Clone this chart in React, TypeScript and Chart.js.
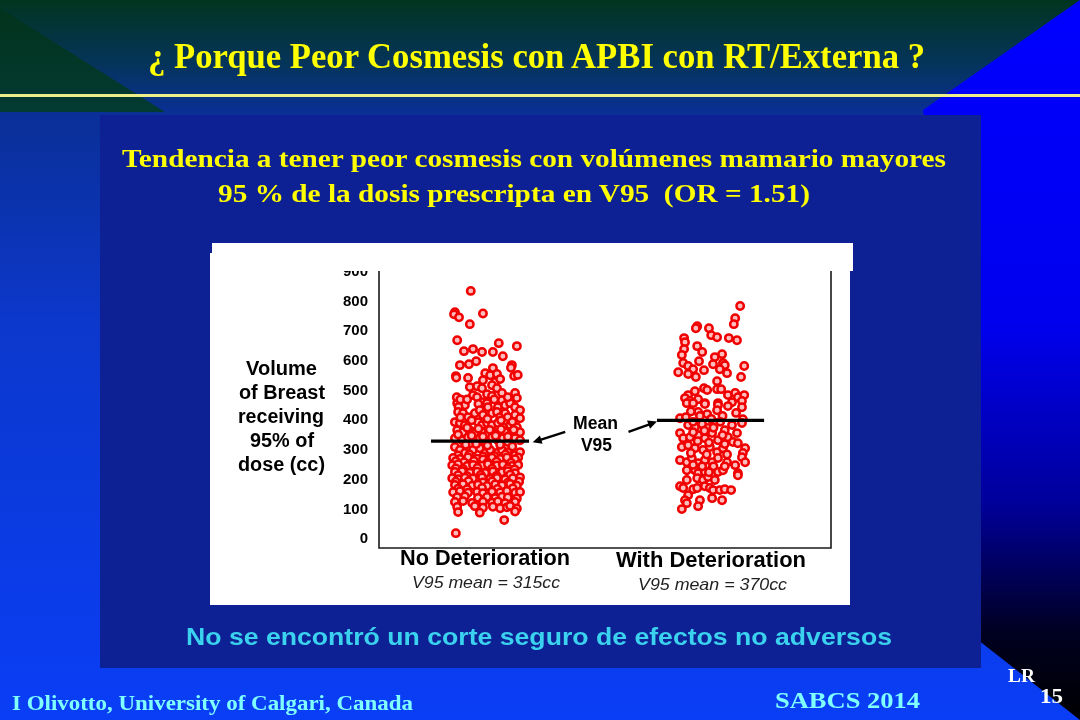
import React, { useEffect, useRef } from "react";
import { Chart, registerables } from "chart.js";

Chart.register(...registerables);

// ---- data ----
const yTicks = [0, 100, 200, 300, 400, 500, 600, 700, 800, 900];
const categoryLabels = ["No Deterioration", "With Deterioration"];
const meanCaptions = ["V95 mean = 315cc", "V95 mean = 370cc"];
const meanBarNo = [{ x: 1.15, y: 330 }, { x: 3.32, y: 330 }];
const meanBarWith = [{ x: 6.15, y: 400 }, { x: 8.52, y: 400 }];
const meanArrows = [
  { from: [4.12, 361], to: [3.4, 326] },
  { from: [5.52, 361], to: [6.15, 396] },
];

const noDeteriorationPoints: [number, number][] = [
  [2.03, 836], [1.68, 764], [1.66, 757], [1.77, 747], [2.30, 760], [2.01, 724], [1.73, 670], [2.65, 660], [3.05, 650],
  [1.88, 633], [2.08, 640], [2.28, 630], [2.52, 630], [2.74, 616], [1.79, 586], [1.99, 589], [2.15, 599], [2.52, 576],
  [2.94, 586], [2.92, 577], [1.70, 549], [1.71, 544], [1.97, 543], [2.99, 549], [3.07, 553],
  [2.35, 559], [2.46, 552], [2.61, 556], [2.30, 535], [2.57, 529], [2.68, 539],
  [2.01, 512], [2.17, 515], [2.28, 508], [2.50, 518], [2.61, 508], [2.72, 492],
  [2.08, 485], [2.17, 478], [2.39, 488], [2.50, 482], [3.01, 492], [3.05, 475],
  [1.84, 468], [1.73, 458], [1.90, 451], [2.28, 461], [2.39, 458], [2.41, 444], [2.72, 468], [2.63, 444], [2.79, 451], [2.90, 458], [3.01, 444], [3.12, 434],
  [1.72, 478], [1.80, 470], [1.76, 445], [1.95, 470], [2.20, 455], [2.55, 470], [2.85, 478],
  [1.75, 428], [1.86, 424], [1.97, 411], [2.12, 424], [2.23, 434], [2.30, 418], [2.50, 424], [2.61, 428], [2.68, 411], [2.79, 424], [2.85, 411], [3.01, 418], [3.12, 407],
  [1.68, 394], [1.79, 391], [1.90, 384], [2.19, 394], [2.28, 384], [2.39, 391], [2.50, 384], [2.63, 391], [2.74, 377], [2.90, 384], [3.05, 377],
  [1.80, 410], [2.05, 400], [2.40, 405], [2.70, 400], [2.95, 395],
  [1.73, 367], [1.86, 360], [2.01, 367], [2.12, 357], [2.28, 360], [2.39, 350], [2.52, 360], [2.63, 357], [2.79, 360], [2.90, 350], [3.01, 357], [3.12, 360],
  [1.95, 375], [2.20, 372], [2.45, 368], [2.70, 370], [2.98, 368],
  [1.68, 340], [1.84, 333], [1.97, 343], [2.12, 333], [2.23, 340], [2.35, 327], [2.50, 343], [2.63, 333], [2.74, 340], [2.85, 327], [3.01, 340], [3.12, 333],
  [1.75, 352], [2.05, 348], [2.30, 345], [2.58, 348], [2.85, 345],
  [1.68, 310], [1.79, 300], [1.90, 290], [2.08, 300], [2.23, 306], [2.35, 290], [2.46, 300], [2.61, 290], [2.72, 300], [2.85, 293], [3.01, 283], [3.12, 293],
  [1.92, 318], [2.15, 320], [2.40, 315], [2.68, 318], [2.95, 312],
  [1.75, 282], [2.00, 285], [2.30, 278], [2.55, 280], [2.80, 285], [3.08, 275],
  [1.64, 273], [1.79, 270], [1.97, 276], [2.17, 271], [2.30, 268], [2.50, 274], [2.68, 270], [2.83, 275], [3.01, 269],
  [1.70, 262], [1.88, 259], [2.10, 263], [2.40, 258], [2.60, 261], [2.92, 257],
  [1.62, 249], [1.75, 252], [1.95, 246], [2.08, 250], [2.28, 247], [2.41, 252], [2.61, 248], [2.74, 251], [2.94, 246], [3.08, 250],
  [1.70, 238], [1.86, 236], [2.18, 240], [2.50, 237], [2.85, 239], [3.00, 235],
  [1.68, 226], [1.84, 229], [2.01, 224], [2.17, 227], [2.35, 223], [2.52, 228], [2.72, 225], [2.85, 229], [3.01, 222],
  [1.75, 215], [1.95, 212], [2.25, 216], [2.60, 213], [2.90, 217],
  [1.62, 205], [1.75, 202], [1.90, 207], [2.08, 204], [2.28, 208], [2.46, 203], [2.61, 206], [2.79, 201], [2.96, 205], [3.12, 208],
  [1.70, 193], [1.98, 195], [2.30, 191], [2.50, 194], [2.85, 190], [3.10, 193],
  [1.68, 182], [1.86, 185], [2.06, 180], [2.19, 183], [2.39, 179], [2.57, 184], [2.72, 181], [2.90, 186], [3.05, 180],
  [1.75, 170], [1.95, 168], [2.28, 172], [2.62, 169], [2.96, 171],
  [1.64, 158], [1.79, 161], [1.97, 156], [2.17, 159], [2.30, 155], [2.50, 160], [2.68, 157], [2.83, 162], [3.01, 156], [3.12, 159],
  [1.73, 141], [1.90, 144], [2.19, 139], [2.39, 142], [2.57, 138], [2.72, 143], [2.85, 140], [3.05, 137],
  [1.68, 125], [1.86, 128], [2.06, 122], [2.30, 126], [2.50, 123], [2.63, 127], [2.79, 121], [3.01, 125],
  [1.73, 108], [2.12, 111], [2.30, 106], [2.52, 109], [2.68, 104], [2.83, 107], [2.90, 112], [3.05, 103],
  [1.75, 91], [2.23, 89], [3.01, 93],
  [2.77, 64], [1.70, 20],
];

const withDeteriorationPoints: [number, number][] = [
  [7.99, 785], [7.88, 744], [7.85, 724], [7.04, 717], [7.01, 710], [7.30, 710], [7.35, 687], [7.48, 680], [7.74, 677], [7.92, 670],
  [6.75, 677], [6.77, 663], [7.04, 650], [7.15, 630], [6.75, 640], [6.70, 620], [7.43, 613], [7.59, 623], [7.08, 599], [6.73, 593],
  [6.84, 583], [6.95, 572], [7.39, 589], [7.61, 593], [7.65, 586], [7.54, 572], [7.19, 569], [8.08, 583], [6.62, 562], [6.84, 556],
  [7.01, 546], [7.70, 559], [8.01, 546], [7.48, 532], [7.19, 508], [7.26, 502], [7.48, 505], [7.57, 505], [6.99, 498], [6.84, 485],
  [6.77, 475], [6.88, 465], [7.06, 471], [7.72, 485], [7.88, 492], [7.94, 478], [8.08, 485], [8.03, 465], [7.21, 458], [7.50, 458], [7.81, 461],
  [6.81, 458], [6.95, 458], [7.21, 455], [7.50, 451], [7.72, 448], [8.03, 444], [7.06, 428], [7.26, 421], [7.48, 434], [6.66, 407],
  [6.79, 411], [8.05, 404], [8.03, 391], [6.84, 384], [6.99, 377], [7.15, 387], [7.28, 374], [7.43, 391], [7.65, 367], [7.81, 384],
  [7.92, 357], [6.66, 357], [6.73, 340], [6.88, 343], [7.06, 350], [7.21, 340], [7.37, 357], [7.50, 333], [7.72, 343], [7.83, 327],
  [7.94, 323], [6.70, 310], [6.84, 316], [6.99, 306], [7.17, 300], [7.32, 310], [7.48, 293], [7.61, 306], [8.10, 306], [8.05, 290],
  [8.03, 276], [6.66, 266], [6.81, 259], [6.92, 273], [7.06, 256], [7.21, 266], [7.37, 259], [7.50, 273], [7.70, 259], [7.88, 249],
  [8.10, 259], [6.81, 232], [6.99, 232], [7.06, 222], [7.21, 226], [7.37, 239], [7.50, 226], [7.61, 232], [7.94, 222], [7.04, 205],
  [7.17, 199], [7.28, 209], [7.43, 199], [6.81, 199], [6.66, 178], [6.73, 172], [6.95, 168], [7.04, 172], [7.21, 178], [7.32, 172],
  [7.39, 165], [7.54, 165], [7.65, 168], [7.79, 165], [6.84, 148], [6.77, 131], [6.81, 121], [7.10, 131], [7.06, 111], [7.37, 138],
  [7.59, 131], [6.70, 101],
  [6.90, 430], [7.10, 415], [7.35, 405], [7.60, 415], [7.90, 425], [6.95, 395], [7.55, 395], [7.20, 365], [7.40, 375], [6.95, 360],
  [7.60, 350], [7.30, 325], [7.05, 330], [7.65, 320], [6.90, 290], [7.25, 285], [7.70, 285], [7.40, 245], [7.15, 245], [6.95, 250],
  [7.65, 245], [7.30, 225], [7.94, 215],
];

const SANS = "'Liberation Sans', Arial, sans-serif";
const SERIF = "'Liberation Serif', 'Times New Roman', serif";

const framePlugin = {
  id: "frameAndArrows",
  afterDatasetsDraw(chart: any) {
    const { ctx, chartArea, scales } = chart;
    const { left, right, top, bottom } = chartArea;
    ctx.save();
    ctx.strokeStyle = "#1a1a1a";
    ctx.lineWidth = 1.6;
    ctx.beginPath();
    ctx.moveTo(left, top);
    ctx.lineTo(left, bottom);
    ctx.lineTo(right, bottom);
    ctx.lineTo(right, top);
    ctx.stroke();
    ctx.strokeStyle = "#000";
    ctx.fillStyle = "#000";
    ctx.lineWidth = 2.4;
    for (const a of meanArrows) {
      const x1 = scales.x.getPixelForValue(a.from[0]);
      const y1 = scales.y.getPixelForValue(a.from[1]);
      const x2 = scales.x.getPixelForValue(a.to[0]);
      const y2 = scales.y.getPixelForValue(a.to[1]);
      const ang = Math.atan2(y2 - y1, x2 - x1);
      const hl = 10;
      const bx = x2 - Math.cos(ang) * hl * 0.8;
      const by = y2 - Math.sin(ang) * hl * 0.8;
      ctx.beginPath();
      ctx.moveTo(x1, y1);
      ctx.lineTo(bx, by);
      ctx.stroke();
      ctx.beginPath();
      ctx.moveTo(x2, y2);
      ctx.lineTo(x2 - hl * Math.cos(ang - 0.45), y2 - hl * Math.sin(ang - 0.45));
      ctx.lineTo(x2 - hl * Math.cos(ang + 0.45), y2 - hl * Math.sin(ang + 0.45));
      ctx.closePath();
      ctx.fill();
    }
    ctx.restore();
  },
};

function T(props: any) {
  const { x, y, w, size, fill, family, weight, italic, children } = props;
  return (
    <text
      x={x}
      y={y}
      textLength={w}
      lengthAdjust="spacingAndGlyphs"
      fontSize={size}
      fill={fill}
      fontFamily={family}
      fontWeight={weight || "bold"}
      fontStyle={italic ? "italic" : "normal"}
      style={{ whiteSpace: "pre" }}
    >
      {children}
    </text>
  );
}

export default function App() {
  const ref = useRef<HTMLCanvasElement>(null);
  useEffect(() => {
    if (!ref.current) return;
    const pointStyle = {
      pointRadius: 3.7,
      borderWidth: 2.5,
      borderColor: "#f00000",
      backgroundColor: "#ffbcbc",
      order: 1,
    };
    const chart = new Chart(ref.current, {
      type: "scatter",
      data: {
        datasets: [
          { label: "mean1", data: meanBarNo, showLine: true, borderColor: "#000", borderWidth: 3.4, pointRadius: 0, order: 0 } as any,
          { label: "mean2", data: meanBarWith, showLine: true, borderColor: "#000", borderWidth: 3.4, pointRadius: 0, order: 0 } as any,
          { label: categoryLabels[0], data: noDeteriorationPoints.map(([x, y]) => ({ x, y })), ...pointStyle } as any,
          { label: categoryLabels[1], data: withDeteriorationPoints.map(([x, y]) => ({ x, y })), ...pointStyle } as any,
        ],
      },
      options: {
        animation: false,
        responsive: false,
        layout: { padding: { top: 20, right: 19, bottom: 57, left: 0 } },
        plugins: { legend: { display: false }, tooltip: { enabled: false } },
        scales: {
          x: { type: "linear", min: 0, max: 10, display: false },
          y: {
            min: -30,
            max: 930,
            afterBuildTicks: (s: any) => {
              s.ticks = yTicks.map((v) => ({ value: v }));
            },
            afterFit: (s: any) => {
              s.width = 169;
            },
            grid: { display: false, drawTicks: false },
            border: { display: false },
            ticks: { color: "#000", padding: 11, font: { family: SANS, size: 15, weight: "bold" } },
          },
        },
      } as any,
      plugins: [framePlugin],
    });
    return () => chart.destroy();
  }, []);

  return (
    <div style={{ position: "absolute", left: 0, top: 0, width: 1080, height: 720, overflow: "hidden" }}>
      <svg width={1080} height={720} style={{ position: "absolute", left: 0, top: 0 }}>
        <defs>
          <linearGradient id="bg" x1="0" y1="0" x2="0" y2="1">
            <stop offset="0" stopColor="#01351f" />
            <stop offset="0.09" stopColor="#05345c" />
            <stop offset="0.16" stopColor="#0a2f98" />
            <stop offset="0.45" stopColor="#0c38cc" />
            <stop offset="1" stopColor="#0a3ef6" />
          </linearGradient>
          <linearGradient id="rt" x1="0" y1="0" x2="0" y2="1">
            <stop offset="0" stopColor="#0000ff" />
            <stop offset="0.45" stopColor="#0000ee" />
            <stop offset="0.7" stopColor="#00009a" />
            <stop offset="0.88" stopColor="#000020" />
            <stop offset="1" stopColor="#000000" />
          </linearGradient>
          <linearGradient id="lt" x1="0" y1="0" x2="0" y2="1">
            <stop offset="0" stopColor="#02331c" />
            <stop offset="1" stopColor="#033a32" />
          </linearGradient>
        </defs>
        <rect x={0} y={0} width={1080} height={720} fill="url(#bg)" />
        <polygon points="0,8 165,112 0,112" fill="url(#lt)" />
        <polygon points="1080,0 923,110 978,640 1080,720" fill="url(#rt)" />
        <rect x={0} y={94} width={1080} height={3} fill="#eeee88" />
        <rect x={100} y={115} width={881} height={553} fill="#0e2194" />
      </svg>
      <div style={{ position: "absolute", left: 210, top: 253, width: 640, height: 352, background: "#fff" }} />
      <canvas ref={ref} width={640} height={362} style={{ position: "absolute", left: 210, top: 243, width: 640, height: 362 }} />
      <div style={{ position: "absolute", left: 212, top: 243, width: 641, height: 28, background: "#fff" }} />
      <svg width={1080} height={720} style={{ position: "absolute", left: 0, top: 0, pointerEvents: "none" }}>
        <T x={148} y={68} w={777} size={35} fill="#ffff00" family={SERIF}>¿ Porque Peor Cosmesis con APBI con RT/Externa ?</T>
        <T x={122} y={167} w={824} size={26} fill="#ffff00" family={SERIF}>Tendencia a tener peor cosmesis con volúmenes mamario mayores</T>
        <T x={218} y={202} w={592} size={26} fill="#ffff00" family={SERIF}>95 % de la dosis prescripta en V95  (OR = 1.51)</T>
        <T x={186} y={645} w={706} size={24} fill="#3ad2ee" family={SANS}>No se encontró un corte seguro de efectos no adversos</T>
        <T x={12} y={710} w={401} size={21} fill="#80ffff" family={SERIF}>I Olivotto, University of Calgari, Canada</T>
        <T x={775} y={708} w={145} size={24} fill="#80ffff" family={SERIF}>SABCS 2014</T>
        <T x={1008} y={682} w={27} size={18} fill="#ffffff" family={SERIF}>LR</T>
        <T x={1040} y={703} w={23} size={21} fill="#ffffff" family={SERIF}>15</T>

        <T x={246} y={375} w={71} size={20} fill="#000" family={SANS}>Volume</T>
        <T x={239} y={399} w={86} size={20} fill="#000" family={SANS}>of Breast</T>
        <T x={238} y={423} w={86} size={20} fill="#000" family={SANS}>receiving</T>
        <T x={250} y={447} w={64} size={20} fill="#000" family={SANS}>95% of</T>
        <T x={238} y={471} w={87} size={20} fill="#000" family={SANS}>dose (cc)</T>
        <T x={573} y={429} w={45} size={18} fill="#000" family={SANS}>Mean</T>
        <T x={581} y={451} w={31} size={18} fill="#000" family={SANS}>V95</T>
        <T x={400} y={565} w={170} size={22} fill="#000" family={SANS}>{categoryLabels[0]}</T>
        <T x={412} y={588} w={148} size={17} fill="#222" family={SANS} weight="normal" italic>{meanCaptions[0]}</T>
        <T x={616} y={567} w={190} size={22} fill="#000" family={SANS}>{categoryLabels[1]}</T>
        <T x={638} y={590} w={149} size={17} fill="#222" family={SANS} weight="normal" italic>{meanCaptions[1]}</T>
      </svg>
    </div>
  );
}
